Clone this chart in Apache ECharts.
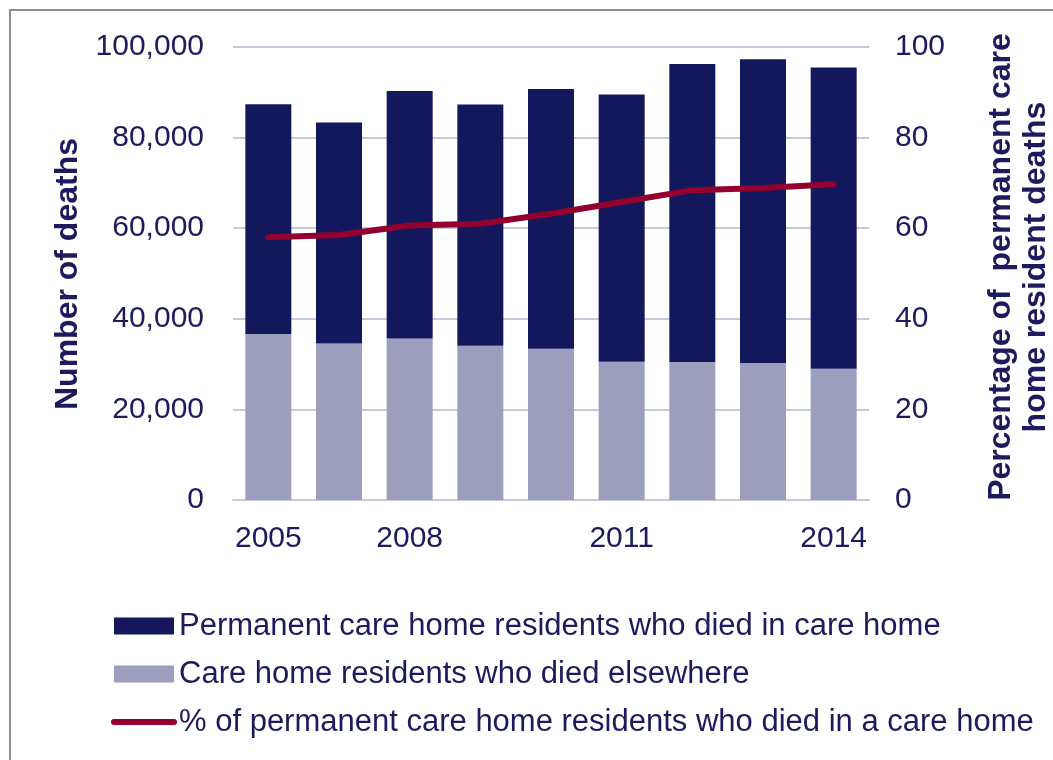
<!DOCTYPE html>
<html>
<head>
<meta charset="utf-8">
<script src="https://cdn.jsdelivr.net/npm/echarts@6/dist/echarts.min.js"></script>
<style>
  html, body { margin: 0; padding: 0; background: #fff; }
  #chart { width: 1053px; height: 760px; }
</style>
</head>
<body>
<div id="chart"></div>
<script>
// years on the x axis (only some are labelled)
var years = ['2005', '2006', '2008', '2009', '2010', '2011', '2012', '2013', '2014'];
var shownYears = ['2005', '2008', '2011', '2014'];
// deaths of care home residents who died elsewhere
var diedElsewhere = [36650, 34530, 35630, 34060, 33400, 30500, 30450, 30270, 28950];
// deaths of permanent residents in the care home
var diedInCareHome = [50700, 48800, 54640, 53220, 57330, 58990, 65820, 67020, 66520];
// percentage who died in a care home
var pctInCareHome = [58.0, 58.5, 60.6, 61.0, 63.2, 65.8, 68.4, 68.9, 69.7];
var leftTicks = [0, 20000, 40000, 60000, 80000, 100000];

var navy = '#13185D';
var lilac = '#9D9DBD';
var maroon = '#93002D';
var textCol = '#1B1B5E';
var gridCol = '#C8C8DC';
var font = 'Liberation Sans';

var myChart = echarts.init(document.getElementById('chart'));

myChart.setOption({
    animation: false,
    textStyle: { fontFamily: font },
    grid: { left: 233, right: 184, top: 47, bottom: 260 },
    graphic: [
        {
            // outer frame (top and left edge visible)
            type: 'rect',
            shape: { x: 10, y: 10, width: 1100, height: 800 },
            style: { fill: 'none', stroke: '#8f8f8f', lineWidth: 2 },
            silent: true
        },
        {
            type: 'text',
            x: 68, y: 274,
            rotation: Math.PI / 2,
            style: {
                text: 'Number of deaths',
                font: 'bold 32px "Liberation Sans"',
                fill: textCol,
                textAlign: 'center',
                textVerticalAlign: 'middle'
            }
        },
        {
            type: 'text',
            x: 1019, y: 267,
            rotation: Math.PI / 2,
            style: {
                text: 'Percentage of  permanent care\nhome resident deaths',
                font: 'bold 32px "Liberation Sans"',
                lineHeight: 35,
                fill: textCol,
                textAlign: 'center',
                textVerticalAlign: 'middle'
            }
        }
    ],
    legend: {
        orient: 'vertical',
        left: 111,
        top: 609,
        padding: 0,
        itemWidth: 60,
        itemHeight: 17,
        itemGap: 14,
        textStyle: { color: textCol, fontSize: 31, fontFamily: font, lineHeight: 34 },
        data: [
            { name: 'Permanent care home residents who died in care home', icon: 'rect' },
            { name: 'Care home residents who died elsewhere', icon: 'rect' },
            {
                name: '% of permanent care home residents who died in a care home',
                itemStyle: { opacity: 0 },
                lineStyle: { color: maroon, width: 6, cap: 'round' }
            }
        ]
    },
    xAxis: {
        type: 'category',
        data: years,
        axisLine: { show: true, lineStyle: { color: gridCol, width: 2 } },
        axisTick: { show: false },
        axisLabel: {
            color: textCol,
            fontSize: 30,
            margin: 24,
            interval: function (i, v) { return shownYears.indexOf(v) >= 0; }
        }
    },
    yAxis: [
        {
            type: 'value',
            min: leftTicks[0],
            max: leftTicks[leftTicks.length - 1],
            interval: 20000,
            axisLine: { show: false },
            axisTick: { show: false },
            splitLine: { lineStyle: { color: gridCol, width: 2 } },
            axisLabel: {
                color: textCol,
                fontSize: 30,
                margin: 29,
                formatter: function (v) { return v.toLocaleString('en-GB'); }
            }
        },
        {
            type: 'value',
            min: 0,
            max: 100,
            interval: 20,
            axisLine: { show: false },
            axisTick: { show: false },
            splitLine: { show: false },
            axisLabel: { color: textCol, fontSize: 30, margin: 26, align: 'left' }
        }
    ],
    series: [
        {
            name: 'Care home residents who died elsewhere',
            type: 'bar',
            stack: 'deaths',
            barWidth: 46,
            itemStyle: { color: lilac },
            data: diedElsewhere
        },
        {
            name: 'Permanent care home residents who died in care home',
            type: 'bar',
            stack: 'deaths',
            barWidth: 46,
            itemStyle: { color: navy },
            data: diedInCareHome
        },
        {
            name: '% of permanent care home residents who died in a care home',
            type: 'line',
            yAxisIndex: 1,
            symbol: 'none',
            z: 5,
            lineStyle: { color: maroon, width: 6, cap: 'round' },
            itemStyle: { color: maroon },
            data: pctInCareHome
        }
    ]
});
</script>
</body>
</html>
